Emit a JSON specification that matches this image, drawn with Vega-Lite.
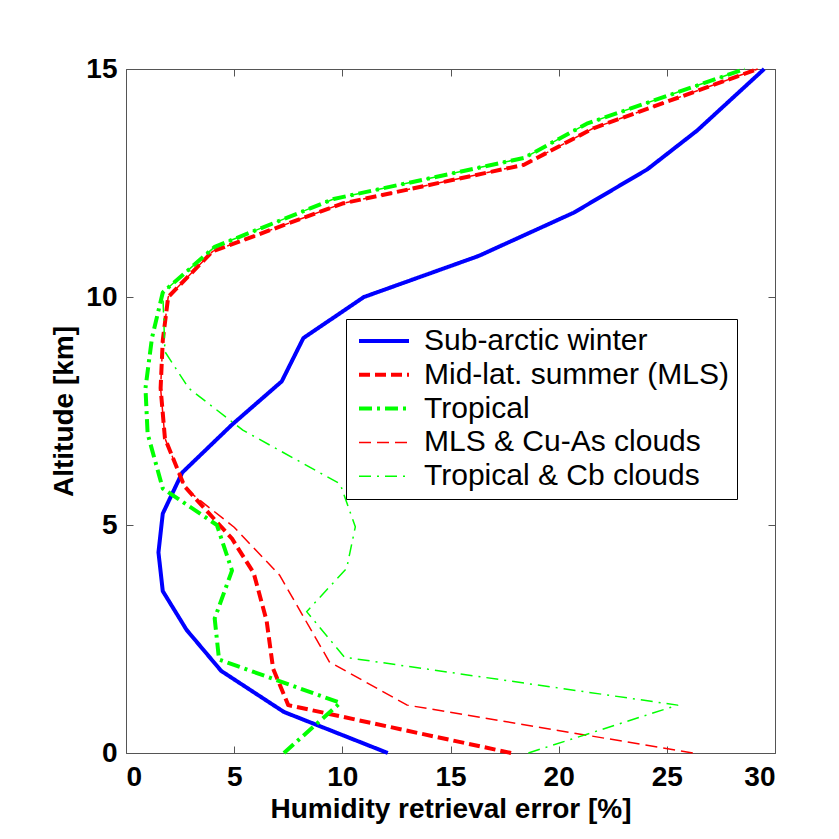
{
  "$schema": "https://vega.github.io/schema/vega-lite/v6.json",
  "width": 649,
  "height": 684,
  "autosize": {"type": "none"},
  "padding": {"left": 126, "top": 69, "right": 64, "bottom": 86},
  "background": "white",
  "config": {
    "view": {"stroke": null},
    "font": "Liberation Sans",
    "axis": {
      "grid": false,
      "domainColor": "#555555",
      "tickColor": "#555555",
      "tickSize": -7,
      "labelFont": "Liberation Sans",
      "labelFontSize": 28,
      "labelFontWeight": "bold",
      "labelColor": "black",
      "titleFont": "Liberation Sans",
      "titleFontSize": 28,
      "titleFontWeight": "bold",
      "titleColor": "black"
    },
    "legend": {
      "orient": "none",
      "legendX": 220,
      "legendY": 250,
      "direction": "vertical",
      "strokeColor": "black",
      "fillColor": "white",
      "padding": 7,
      "symbolType": "M-2.5,0H2.5",
      "symbolSize": 400,
      "symbolOffset": 16,
      "labelFont": "Liberation Sans",
      "labelFontSize": 30,
      "labelColor": "black",
      "labelOffset": 25,
      "labelLimit": 600,
      "rowPadding": 3.8
    }
  },
  "data": {
    "values": [
      {"s": "Sub-arctic winter", "x": 12.1, "y": 0},
      {"s": "Sub-arctic winter", "x": 7.3, "y": 0.9},
      {"s": "Sub-arctic winter", "x": 4.4, "y": 1.8},
      {"s": "Sub-arctic winter", "x": 2.8, "y": 2.7},
      {"s": "Sub-arctic winter", "x": 1.7, "y": 3.55},
      {"s": "Sub-arctic winter", "x": 1.5, "y": 4.4},
      {"s": "Sub-arctic winter", "x": 1.7, "y": 5.25},
      {"s": "Sub-arctic winter", "x": 2.6, "y": 6.15},
      {"s": "Sub-arctic winter", "x": 4.9, "y": 7.2},
      {"s": "Sub-arctic winter", "x": 7.2, "y": 8.15},
      {"s": "Sub-arctic winter", "x": 8.2, "y": 9.1},
      {"s": "Sub-arctic winter", "x": 11.0, "y": 10.0},
      {"s": "Sub-arctic winter", "x": 16.3, "y": 10.9},
      {"s": "Sub-arctic winter", "x": 20.7, "y": 11.85},
      {"s": "Sub-arctic winter", "x": 24.1, "y": 12.8},
      {"s": "Sub-arctic winter", "x": 26.4, "y": 13.65},
      {"s": "Sub-arctic winter", "x": 29.5, "y": 15},

      {"s": "Mid-lat. summer (MLS)", "x": 17.8, "y": 0},
      {"s": "Mid-lat. summer (MLS)", "x": 7.5, "y": 1.05},
      {"s": "Mid-lat. summer (MLS)", "x": 6.8, "y": 1.85},
      {"s": "Mid-lat. summer (MLS)", "x": 6.5, "y": 2.9},
      {"s": "Mid-lat. summer (MLS)", "x": 5.9, "y": 3.95},
      {"s": "Mid-lat. summer (MLS)", "x": 4.9, "y": 4.7},
      {"s": "Mid-lat. summer (MLS)", "x": 2.7, "y": 5.85},
      {"s": "Mid-lat. summer (MLS)", "x": 1.8, "y": 6.9},
      {"s": "Mid-lat. summer (MLS)", "x": 1.6, "y": 8.0},
      {"s": "Mid-lat. summer (MLS)", "x": 1.7, "y": 9.05},
      {"s": "Mid-lat. summer (MLS)", "x": 1.95, "y": 10.0},
      {"s": "Mid-lat. summer (MLS)", "x": 4.0, "y": 11.0},
      {"s": "Mid-lat. summer (MLS)", "x": 10.0, "y": 12.05},
      {"s": "Mid-lat. summer (MLS)", "x": 18.4, "y": 12.9},
      {"s": "Mid-lat. summer (MLS)", "x": 21.6, "y": 13.7},
      {"s": "Mid-lat. summer (MLS)", "x": 29.2, "y": 15},

      {"s": "Tropical", "x": 7.3, "y": 0},
      {"s": "Tropical", "x": 9.9, "y": 1.1},
      {"s": "Tropical", "x": 4.3, "y": 2.05},
      {"s": "Tropical", "x": 4.1, "y": 2.95},
      {"s": "Tropical", "x": 4.9, "y": 4.0},
      {"s": "Tropical", "x": 4.2, "y": 5.0},
      {"s": "Tropical", "x": 1.7, "y": 5.8},
      {"s": "Tropical", "x": 1.0, "y": 7.0},
      {"s": "Tropical", "x": 0.9, "y": 8.0},
      {"s": "Tropical", "x": 1.2, "y": 9.1},
      {"s": "Tropical", "x": 1.7, "y": 10.1},
      {"s": "Tropical", "x": 4.1, "y": 11.1},
      {"s": "Tropical", "x": 9.6, "y": 12.15},
      {"s": "Tropical", "x": 18.4, "y": 13.05},
      {"s": "Tropical", "x": 21.3, "y": 13.8},
      {"s": "Tropical", "x": 28.6, "y": 15},

      {"s": "MLS & Cu-As clouds", "x": 26.2, "y": 0},
      {"s": "MLS & Cu-As clouds", "x": 13.0, "y": 1.05},
      {"s": "MLS & Cu-As clouds", "x": 9.4, "y": 2.0},
      {"s": "MLS & Cu-As clouds", "x": 7.1, "y": 3.9},
      {"s": "MLS & Cu-As clouds", "x": 5.0, "y": 4.95},
      {"s": "MLS & Cu-As clouds", "x": 3.0, "y": 5.7},
      {"s": "MLS & Cu-As clouds", "x": 2.7, "y": 5.85},
      {"s": "MLS & Cu-As clouds", "x": 1.8, "y": 6.9},
      {"s": "MLS & Cu-As clouds", "x": 1.6, "y": 8.0},
      {"s": "MLS & Cu-As clouds", "x": 1.7, "y": 9.05},
      {"s": "MLS & Cu-As clouds", "x": 1.95, "y": 10.0},
      {"s": "MLS & Cu-As clouds", "x": 4.0, "y": 11.0},
      {"s": "MLS & Cu-As clouds", "x": 10.0, "y": 12.05},
      {"s": "MLS & Cu-As clouds", "x": 18.4, "y": 12.9},
      {"s": "MLS & Cu-As clouds", "x": 21.6, "y": 13.7},
      {"s": "MLS & Cu-As clouds", "x": 29.2, "y": 15},

      {"s": "Tropical & Cb clouds", "x": 18.6, "y": 0},
      {"s": "Tropical & Cb clouds", "x": 25.5, "y": 1.05},
      {"s": "Tropical & Cb clouds", "x": 10.1, "y": 2.1},
      {"s": "Tropical & Cb clouds", "x": 8.35, "y": 3.1},
      {"s": "Tropical & Cb clouds", "x": 10.2, "y": 4.05},
      {"s": "Tropical & Cb clouds", "x": 10.6, "y": 4.96},
      {"s": "Tropical & Cb clouds", "x": 9.9, "y": 5.9},
      {"s": "Tropical & Cb clouds", "x": 5.4, "y": 7.08},
      {"s": "Tropical & Cb clouds", "x": 2.9, "y": 8.0},
      {"s": "Tropical & Cb clouds", "x": 1.8, "y": 8.8},
      {"s": "Tropical & Cb clouds", "x": 1.7, "y": 10.1},
      {"s": "Tropical & Cb clouds", "x": 4.1, "y": 11.1},
      {"s": "Tropical & Cb clouds", "x": 9.6, "y": 12.15},
      {"s": "Tropical & Cb clouds", "x": 18.4, "y": 13.05},
      {"s": "Tropical & Cb clouds", "x": 21.3, "y": 13.8},
      {"s": "Tropical & Cb clouds", "x": 28.6, "y": 15}
    ]
  },
  "layer": [
    {
      "mark": {"type": "line", "strokeCap": "butt", "strokeJoin": "round"},
      "encoding": {
        "x": {
          "field": "x", "type": "quantitative",
          "scale": {"domain": [0, 30], "nice": false},
          "axis": {"orient": "bottom", "values": [0, 5, 10, 15, 20, 25, 30], "labelPadding": 17, "title": "Humidity retrieval error [%]", "titlePadding": 4}
        },
        "y": {
          "field": "y", "type": "quantitative",
          "scale": {"domain": [0, 15], "nice": false},
          "axis": {"orient": "left", "values": [0, 5, 10, 15], "labelPadding": 16, "title": "Altitude [km]", "titlePadding": 7}
        },
        "order": {"field": "y", "type": "quantitative"},
        "color": {
          "field": "s", "type": "nominal",
          "scale": {
            "domain": ["Sub-arctic winter", "Mid-lat. summer (MLS)", "Tropical", "MLS & Cu-As clouds", "Tropical & Cb clouds"],
            "range": ["#0000ff", "#ff0000", "#00ff00", "#ff0000", "#00ff00"]
          },
          "legend": {"title": null}
        },
        "strokeDash": {
          "field": "s", "type": "nominal",
          "scale": {
            "domain": ["Sub-arctic winter", "Mid-lat. summer (MLS)", "Tropical", "MLS & Cu-As clouds", "Tropical & Cb clouds"],
            "range": [[1, 0], [11, 5], [13, 5, 3, 5], [12, 6], [12, 6, 2, 6]]
          },
          "legend": {"title": null}
        },
        "strokeWidth": {
          "field": "s", "type": "nominal",
          "scale": {
            "type": "ordinal",
            "domain": ["Sub-arctic winter", "Mid-lat. summer (MLS)", "Tropical", "MLS & Cu-As clouds", "Tropical & Cb clouds"],
            "range": [4, 4, 4, 1.5, 1.5]
          },
          "legend": {"title": null}
        }
      }
    },
    {
      "mark": {"type": "point", "opacity": 0},
      "encoding": {
        "x": {"field": "x", "type": "quantitative", "axis": {"orient": "top", "values": [0, 5, 10, 15, 20, 25, 30], "labels": false, "title": null}},
        "y": {"field": "y", "type": "quantitative", "axis": {"orient": "right", "values": [0, 5, 10, 15], "labels": false, "title": null}}
      }
    }
  ],
  "resolve": {"axis": {"x": "independent", "y": "independent"}}
}
